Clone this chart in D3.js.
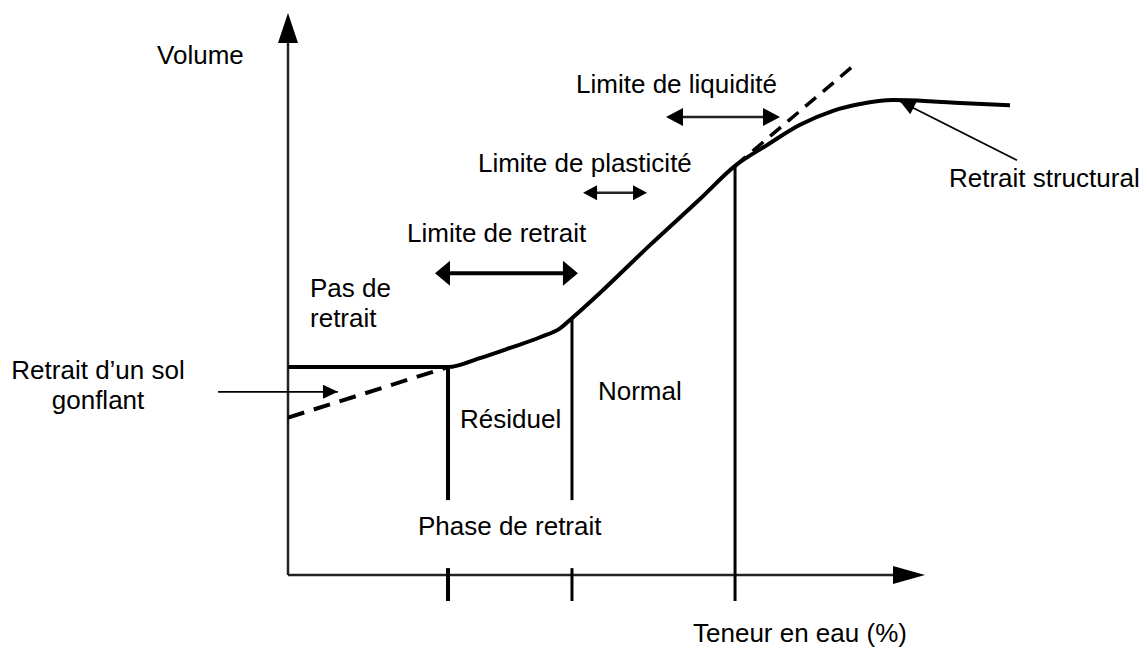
<!DOCTYPE html>
<html>
<head>
<meta charset="utf-8">
<script src="https://cdn.jsdelivr.net/npm/d3@7"></script>
<style>
    html, body { margin: 0; padding: 0; background: #fff; }
    svg text { font-family: Arial, "Liberation Sans", sans-serif; font-size: 26px; fill: #000; }
</style>
</head>
<body>
<div id="graph-01"></div>
<script>
(function(){
    // data ================================================================
    // axis extent : water content (%) and relative volume
    var xDomain = [0, 50],
        yDomain = [0, 10];

    // shrinkage curve
    var curveWater  = [0, 12.56, 15.07, 17.43, 19.78, 21.35, 22.29, 24.49, 28.41, 32.34, 35.09, 37.60, 40.19, 42.78, 44.90, 47.49, 50.39, 52.75, 56.67];
    var curveVolume = [3.70, 3.70, 3.86, 4.04, 4.23, 4.39, 4.57, 5.02, 5.87, 6.69, 7.28, 7.65, 8.01, 8.26, 8.38, 8.45, 8.43, 8.40, 8.36];

    // dashed extrapolations (swelling soil, liquid state)
    var swellWater  = [0, 12.56],   swellVolume  = [2.80, 3.70];
    var liquidWater = [35.09, 44.27], liquidVolume = [7.28, 9.04];

    // phase boundaries
    var phaseWater = [12.56, 22.29, 35.09];
    var phaseTop   = [3.70, 4.57, 7.28];

    // limit ranges (double arrows)
    var rangeFrom  = [11.54, 23.16, 29.67];
    var rangeTo    = [22.76, 28.18, 38.62];
    var rangeLevel = [5.37, 6.80, 8.15];

    // pointer arrows
    var pointerFrom = [[-5.49, 3.26], [57.22, 7.38]];
    var pointerTo   = [[3.92, 3.26], [48.04, 8.43]];

    // labels
    var labelText   = ['Volume', 'Limite de liquidité', 'Limite de plasticité', 'Limite de retrait',
                       'Pas de', 'retrait', 'Retrait d\u2019un sol', 'gonflant', 'Résiduel', 'Normal',
                       'Phase de retrait', 'Teneur en eau (%)', 'Retrait structural'];
    var labelWater  = [-10.28, 22.61, 14.91, 9.34, 1.73, 1.73, -14.91, -14.91, 13.50, 24.33, 10.20, 31.79, 51.88];
    var labelVolume = [9.09, 8.58, 7.17, 5.93, 4.95, 4.41, 3.49, 2.95, 2.62, 3.11, 0.71, -1.19, 6.90];
    var labelAnchor = ['start', 'start', 'start', 'start', 'start', 'start', 'middle', 'middle', 'start', 'start', 'start', 'start', 'start'];

    var WIDTH  = 1148,
        HEIGHT = 648;

    var svg, x, y;

    // "MAIN" ==============================================================
    document.addEventListener("DOMContentLoaded", function() {

        svg = d3.select('div#graph-01')
                .append('svg')
                .attr('width', WIDTH)
                .attr('height', HEIGHT);

        x = d3.scaleLinear().domain(xDomain).range([288, 925]);
        y = d3.scaleLinear().domain(yDomain).range([575, 13]);

        drawAxes();
        drawPhases();
        drawCurve();
        drawRanges();
        drawPointers();
        drawLabels();
    });
    // =====================================================================

    function arrowHead(g, tip, from, len, half){
        var dx = tip[0] - from[0], dy = tip[1] - from[1];
        var d = Math.sqrt(dx*dx + dy*dy);
        var ux = dx/d, uy = dy/d;
        var bx = tip[0] - ux*len, by = tip[1] - uy*len;
        var pts = [tip, [bx - uy*half, by + ux*half], [bx + uy*half, by - ux*half]];
        g.append('path')
            .attr('d', 'M' + pts.join('L') + 'Z')
            .attr('fill', '#000');
    }

    function drawAxes(){
        var g = svg.append('g').attr('class', 'axes');
        var o = [x(0), y(0)];
        var xEnd = [x(xDomain[1]), y(0)];
        var yEnd = [x(0), y(yDomain[1])];

        g.append('line')
            .attr('x1', o[0]).attr('y1', o[1])
            .attr('x2', xEnd[0] - 20).attr('y2', xEnd[1])
            .attr('stroke', '#222').attr('stroke-width', 2.5);
        g.append('line')
            .attr('x1', o[0]).attr('y1', o[1])
            .attr('x2', yEnd[0]).attr('y2', yEnd[1] + 20)
            .attr('stroke', '#222').attr('stroke-width', 2.5);

        arrowHead(g, xEnd, o, 32, 9);
        arrowHead(g, yEnd, o, 30, 10);
    }

    function drawPhases(){
        var g = svg.append('g').attr('class', 'phases');
        var widths = [4, 3, 3];

        g.selectAll('line.phase')
            .data(phaseWater)
            .enter().append('line')
            .attr('class', 'phase')
            .attr('x1', function(d){ return x(d) })
            .attr('x2', function(d){ return x(d) })
            .attr('y1', function(d, i){ return y(phaseTop[i]) })
            .attr('y2', y(0) + 26)
            .attr('stroke', '#000')
            .attr('stroke-width', function(d, i){ return widths[i] });
    }

    function drawCurve(){
        var g = svg.append('g').attr('class', 'curve');

        var line = d3.line()
            .x(function(d){ return x(d[0]) })
            .y(function(d){ return y(d[1]) });

        g.append('path')
            .datum(d3.zip(curveWater, curveVolume))
            .attr('d', line.curve(d3.curveMonotoneX))
            .attr('fill', 'none')
            .attr('stroke', '#000')
            .attr('stroke-width', 4)
            .attr('stroke-linejoin', 'round');

        var straight = d3.line()
            .x(function(d){ return x(d[0]) })
            .y(function(d){ return y(d[1]) });

        g.append('path')
            .datum(d3.zip(swellWater, swellVolume))
            .attr('d', straight)
            .attr('fill', 'none')
            .attr('stroke', '#000')
            .attr('stroke-width', 4)
            .attr('stroke-dasharray', '17,10');

        g.append('path')
            .datum(d3.zip(liquidWater, liquidVolume))
            .attr('d', straight)
            .attr('fill', 'none')
            .attr('stroke', '#000')
            .attr('stroke-width', 3.5)
            .attr('stroke-dasharray', '14,9');
    }

    function drawRanges(){
        var g = svg.append('g').attr('class', 'ranges');
        var widths = [4, 2.5, 2.5],
            heads  = [[15, 12.5], [14, 7.5], [17, 9]];

        rangeFrom.forEach(function(d, i){
            var a = [x(d), y(rangeLevel[i])],
                b = [x(rangeTo[i]), y(rangeLevel[i])];
            g.append('line')
                .attr('x1', a[0] + 8).attr('y1', a[1])
                .attr('x2', b[0] - 8).attr('y2', b[1])
                .attr('stroke', i == 0 ? '#000' : '#222')
                .attr('stroke-width', widths[i]);
            arrowHead(g, a, b, heads[i][0], heads[i][1]);
            arrowHead(g, b, a, heads[i][0], heads[i][1]);
        });
    }

    function drawPointers(){
        var g = svg.append('g').attr('class', 'pointers');

        pointerFrom.forEach(function(d, i){
            var a = [x(d[0]), y(d[1])],
                b = [x(pointerTo[i][0]), y(pointerTo[i][1])];
            g.append('line')
                .attr('x1', a[0]).attr('y1', a[1])
                .attr('x2', b[0]).attr('y2', b[1])
                .attr('stroke', '#000')
                .attr('stroke-width', 1.8);
            arrowHead(g, b, a, 15, 7);
        });
    }

    function drawLabels(){
        var g = svg.append('g').attr('class', 'labels');

        var texts = g.selectAll('text')
            .data(labelText)
            .enter().append('text')
            .attr('x', function(d, i){ return x(labelWater[i]) })
            .attr('y', function(d, i){ return y(labelVolume[i]) })
            .attr('text-anchor', function(d, i){ return labelAnchor[i] })
            .text(function(d){ return d });

        // white box behind "Phase de retrait" cutting the phase lines
        texts.filter(function(d){ return d == 'Phase de retrait' })
            .each(function(){
                var b = this.getBBox();
                g.insert('rect', 'text')
                    .attr('x', b.x - 38)
                    .attr('y', b.y - 11)
                    .attr('width', b.width + 132)
                    .attr('height', 68)
                    .attr('fill', '#fff');
            });
    }

})();
</script>
</body>
</html>
